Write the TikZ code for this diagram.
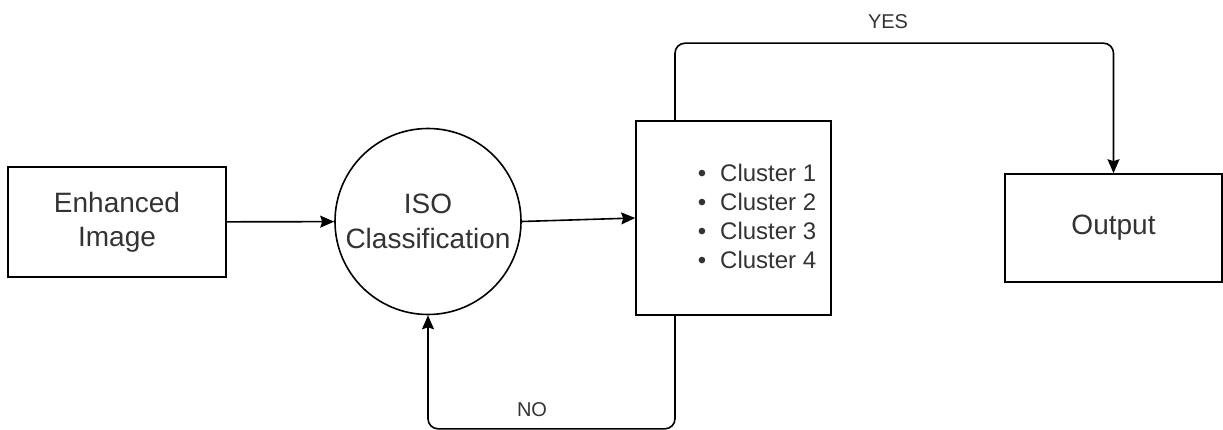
\documentclass[tikz,border=0pt]{standalone}
\usepackage{fontspec}
\setmainfont{Liberation Sans}
\usetikzlibrary{arrows.meta}
\begin{document}
\begin{tikzpicture}[x=1pt,y=1pt,
  every node/.style={text=black!80},
  box/.style={draw=black, line width=1.6pt, rectangle, inner sep=0pt, align=center, font=\fontsize{28}{34}\selectfont},
  circ/.style={draw=black, line width=1.6pt, circle, inner sep=0pt, minimum size=186pt, align=center, font=\fontsize{28}{35}\selectfont},
  link/.style={draw=black, line width=1.6pt, -{Stealth[length=14pt,width=12pt,inset=2pt]}},
  lbl/.style={font=\fontsize{20}{24}\selectfont}
]
\useasboundingbox (0,0) rectangle (1223,-430);

% blocks of the flow
\node[box, minimum width=218pt, minimum height=110pt] (enh) at (117,-222) {Enhanced\\Image};
\node[circ] (iso) at (428,-221.5) {ISO\\Classification};
\node[box, minimum width=195pt, minimum height=194pt] (clus) at (733.5,-218) {};
\node[font=\fontsize{24}{29}\selectfont, align=left, inner sep=0pt] (clist) at (757,-219.5)
  {\begin{tabular}{@{}l@{\hspace{14pt}}l@{}}
   • & Cluster 1\\ • & Cluster 2\\ • & Cluster 3\\ • & Cluster 4
   \end{tabular}};
\node[box, minimum width=217pt, minimum height=108pt] (out) at (1113.5,-228) {Output};

% connectors
\draw[link] (enh) -- (iso);
\draw[link] (iso.east) -- (clus.west);
\draw[link, rounded corners=10pt] ([xshift=-58.5pt]clus.north) -- ++(0,77) -| (out.north);
\draw[link, rounded corners=10pt] ([xshift=-58.5pt]clus.south) -- ++(0,-113) -| (iso.south);

\node[lbl] (yes) at (888,-22) {YES};
\node[lbl] (no) at (532,-410) {NO};
\end{tikzpicture}
\end{document}
